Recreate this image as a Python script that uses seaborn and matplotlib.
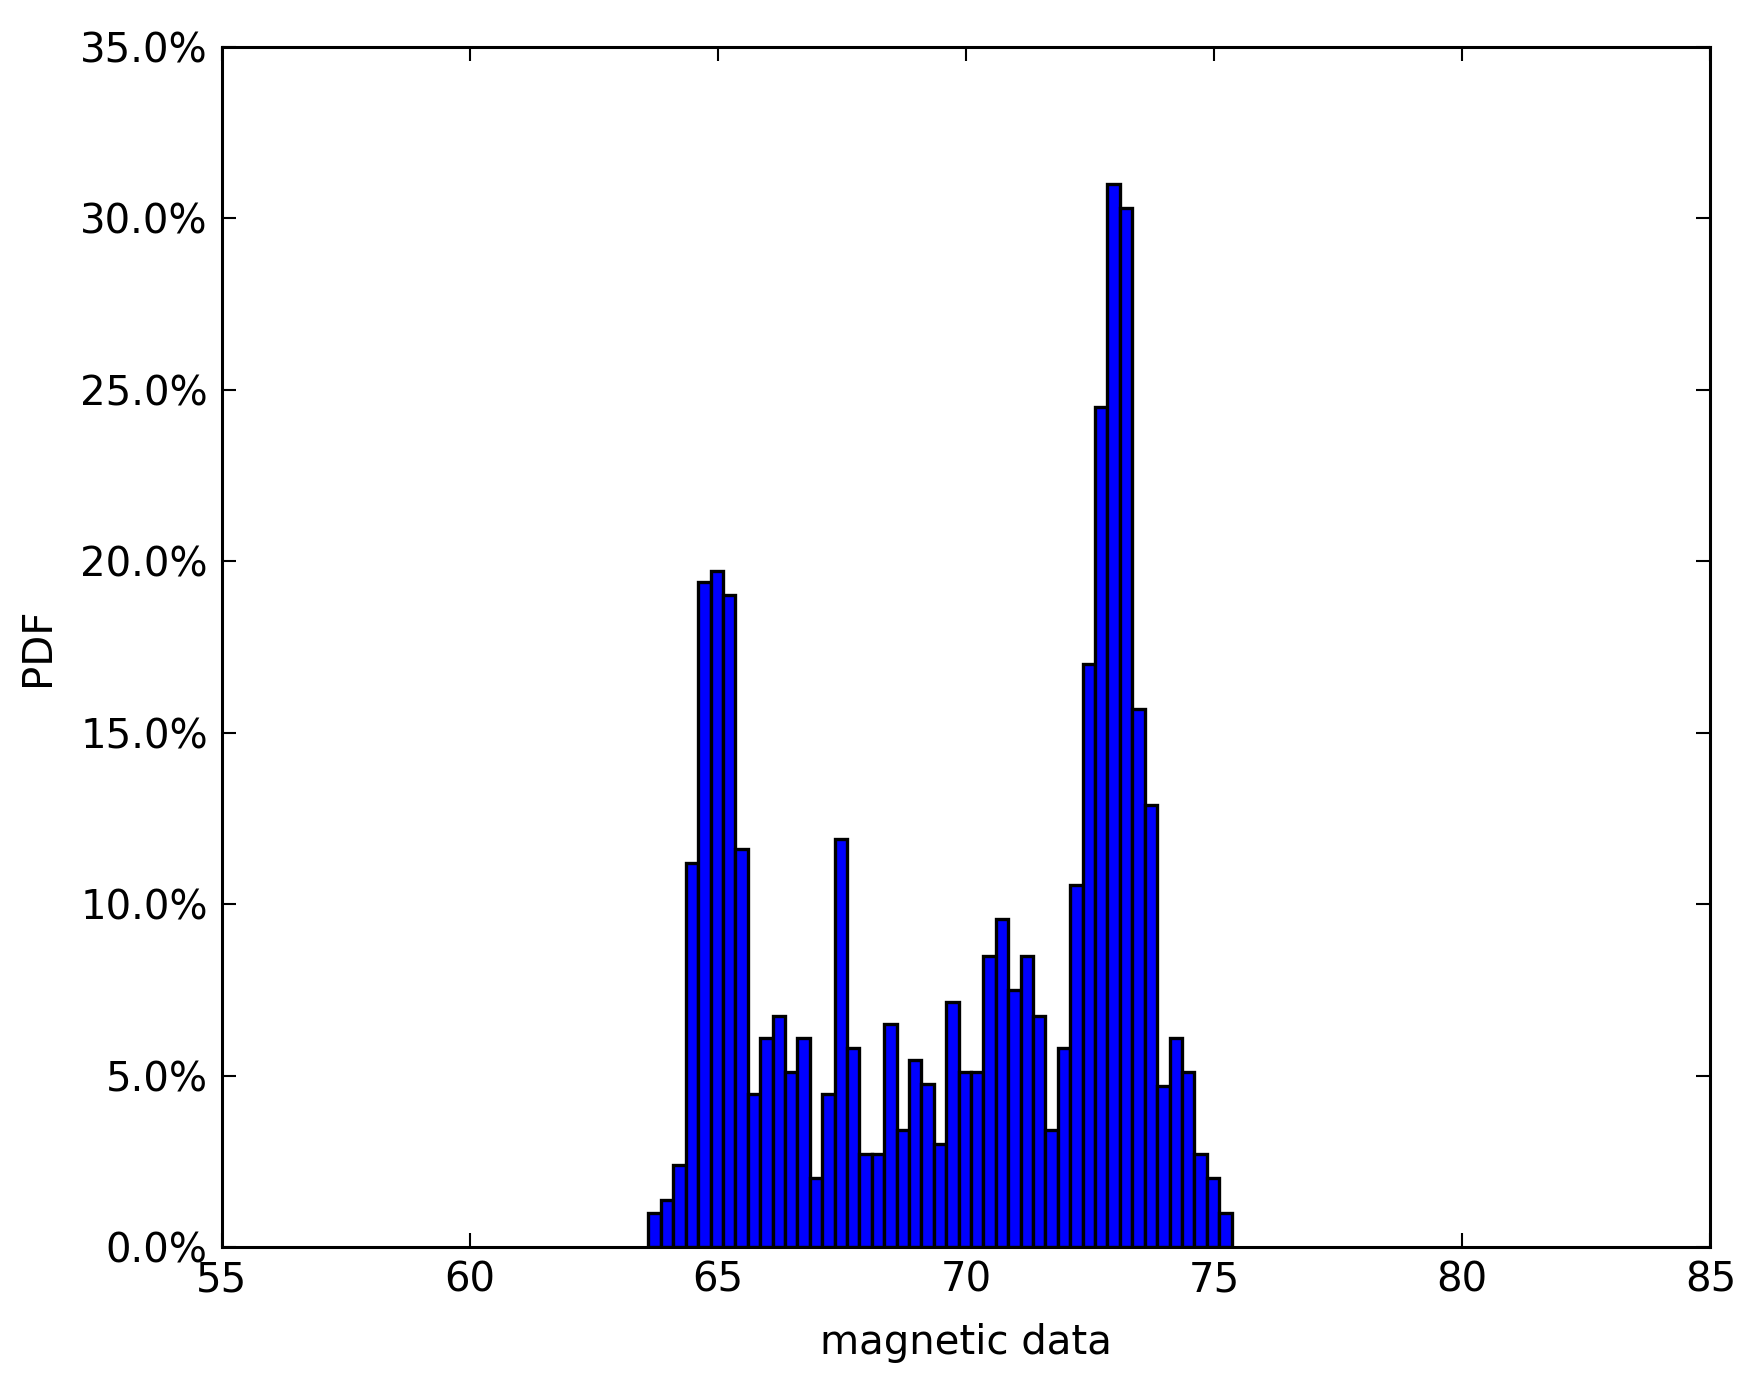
import numpy as np
import pandas as pd
import matplotlib
matplotlib.use("Agg")
import matplotlib.pyplot as plt
import seaborn as sns
from matplotlib.ticker import FuncFormatter

# Data (bin width 0.25, density in %)
bin_start = 63.6
bin_width = 0.25
pdf_percent = [1.0, 1.36, 2.4, 11.2, 19.4, 19.7, 19.0, 11.6,
               4.45, 6.1, 6.75, 5.1, 6.1, 2.0, 4.45, 11.9,
               5.8, 2.7, 2.7, 6.5, 3.4, 5.45, 4.75, 3.0,
               7.15, 5.1, 5.1, 8.5, 9.55, 7.5, 8.5, 6.75,
               3.4, 5.8, 10.55, 17.0, 24.5, 31.0, 30.3, 15.7,
               12.9, 4.7, 6.1, 5.1, 2.7, 2.0, 1.0]
x_ticks = [55, 60, 65, 70, 75, 80, 85]
y_ticks = [0, 5, 10, 15, 20, 25, 30, 35]

n = len(pdf_percent)
edges = bin_start + bin_width * np.arange(n + 1)
centers = (edges[:-1] + edges[1:]) / 2
df = pd.DataFrame({"x": centers, "w": pdf_percent})

sns.set_style("ticks")
plt.rcParams['font.family'] = ['DejaVu Sans']
plt.rcParams['text.color'] = 'black'
plt.rcParams['axes.labelcolor'] = 'black'
plt.rcParams['xtick.color'] = 'black'
plt.rcParams['ytick.color'] = 'black'
plt.rcParams['xtick.direction'] = 'in'
plt.rcParams['ytick.direction'] = 'in'

fig = plt.figure(figsize=(17.46, 13.84), dpi=100)
ax = fig.add_axes([0.127, 0.099, 0.8526, 0.8672])

sns.histplot(data=df, x="x", weights="w", bins=list(edges), stat="count",
             color="#0000ff", edgecolor="black", linewidth=2.4, alpha=1.0,
             ax=ax)

ax.set_xlim(55, 85)
ax.set_ylim(0, 35)
ax.set_xticks(x_ticks)
ax.set_yticks(y_ticks)
ax.yaxis.set_major_formatter(FuncFormatter(lambda v, p: f"{v:.1f}%"))
ax.set_xlabel("magnetic data", fontsize=29, labelpad=16, color="black")
ax.set_ylabel("PDF", fontsize=29, labelpad=16, color="black")
ax.tick_params(axis='both', which='major', labelsize=29, length=10, width=1.5,
               direction='in', top=True, right=True, pad=10,
               labelcolor="black", color="black")
for s in ax.spines.values():
    s.set_visible(True)
    s.set_linewidth(2.2)
    s.set_color("black")

fig.savefig("out.png", dpi=100)
